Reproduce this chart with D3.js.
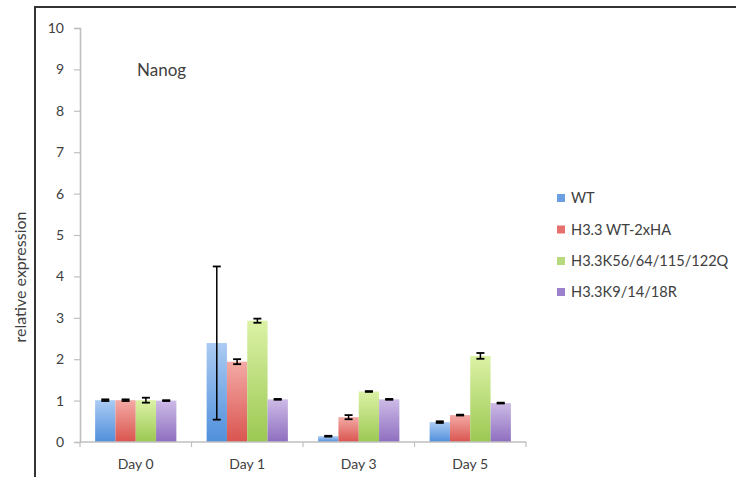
<!DOCTYPE html>
<html>
<head>
<meta charset="utf-8">
<script src="https://cdn.jsdelivr.net/npm/d3@7"></script>
<style>
  html, body { margin: 0; padding: 0; background: #fff; }
  svg { display: block; }
  text { font-family: Lato, "Open Sans", sans-serif; fill: #404040; }
</style>
</head>
<body>
<svg id="chart" width="736" height="477"></svg>
<script>
// ---- data ----
const days = ["Day 0", "Day 1", "Day 3", "Day 5"];
const seriesNames = ["WT", "H3.3 WT-2xHA", "H3.3K56/64/115/122Q", "H3.3K9/14/18R"];
const wtValues   = [1.01, 2.39, 0.14, 0.48];
const haValues   = [1.01, 1.94, 0.60, 0.65];
const kqValues   = [1.01, 2.93, 1.22, 2.08];
const krValues   = [1.00, 1.03, 1.03, 0.94];
const wtErrors   = [0.02, 1.85, 0.01, 0.02];
const haErrors   = [0.02, 0.06, 0.05, 0.01];
const kqErrors   = [0.06, 0.05, 0.01, 0.07];
const krErrors   = [0.01, 0.01, 0.01, 0.01];
const yTicks = [0, 1, 2, 3, 4, 5, 6, 7, 8, 9, 10];
const chartTitle = "Nanog";
const yTitle = "relative expression";

const values = [wtValues, haValues, kqValues, krValues];
const errors = [wtErrors, haErrors, kqErrors, krErrors];
const colorsTop    = ["#abcbf3", "#f4aaa5", "#dcf2a6", "#cdbbe7"];
const colorsBottom = ["#4f8fdb", "#d9544f", "#9bc852", "#8e6ebf"];
const legendColors = ["#6a9fe2", "#e8706c", "#b7da7c", "#9c82cc"];

const svg = d3.select("#chart");
const defs = svg.append("defs");
seriesNames.forEach((s, i) => {
  const g = defs.append("linearGradient").attr("id", "grad" + i)
    .attr("x1", 0).attr("y1", 0).attr("x2", 0).attr("y2", 1);
  g.append("stop").attr("offset", "0%").attr("stop-color", colorsTop[i]);
  g.append("stop").attr("offset", "100%").attr("stop-color", colorsBottom[i]);
});

// frame (cropped outer border)
svg.append("path").attr("d", "M35,477V7H736")
  .attr("fill", "none").attr("stroke", "#333").attr("stroke-width", 2);

const plotLeft = 80, plotRight = 526, plotTop = 28, plotBottom = 442;
const x0 = d3.scaleBand().domain(days).range([plotLeft, plotRight]).padding(0);
const x1 = d3.scaleBand().domain(seriesNames).range([0, x0.bandwidth()]).paddingInner(0).paddingOuter(0.745);
const y = d3.scaleLinear().domain([0, 10]).range([plotBottom, plotTop]);

// y axis
const yAxis = d3.axisLeft(y).tickValues(yTicks).tickSize(6).tickPadding(10).tickFormat(d3.format("d"));
const yg = svg.append("g").attr("transform", `translate(${plotLeft},0)`).call(yAxis);
yg.select(".domain").attr("stroke", "#bfbfbf").attr("stroke-width", 1.6);
yg.selectAll(".tick line").attr("stroke", "#bfbfbf").attr("stroke-width", 1.2);
yg.selectAll(".tick text").style("font-family", "Lato").style("font-size", "14px").attr("fill", "#404040");

// bars
const groups = svg.append("g").selectAll("g").data(days).join("g")
  .attr("transform", d => `translate(${x0(d)},0)`);
groups.each(function(day, di) {
  const g = d3.select(this);
  seriesNames.forEach((s, si) => {
    const v = values[si][di];
    g.append("rect")
      .attr("x", x1(s)).attr("width", x1.bandwidth())
      .attr("y", y(v)).attr("height", y(0) - y(v))
      .attr("fill", `url(#grad${si})`);
  });
  seriesNames.forEach((s, si) => {
    const v = values[si][di], e = errors[si][di];
    const cx = x1(s) + x1.bandwidth() / 2;
    g.append("line").attr("x1", cx).attr("x2", cx)
      .attr("y1", y(v + e)).attr("y2", y(v - e))
      .attr("stroke", "#000").attr("stroke-width", 1.5);
    [v + e, v - e].forEach(t => {
      g.append("line").attr("x1", cx - 4).attr("x2", cx + 4)
        .attr("y1", y(t)).attr("y2", y(t))
        .attr("stroke", "#000").attr("stroke-width", 1.8);
    });
  });
});

// x axis
const xg = svg.append("g").attr("transform", `translate(0,${plotBottom})`);
xg.append("line").attr("x1", plotLeft).attr("x2", plotRight).attr("y1", 0).attr("y2", 0)
  .attr("stroke", "#bfbfbf").attr("stroke-width", 1.6);
const boundaries = days.map(d => x0(d)).concat([x0(days[days.length - 1]) + x0.bandwidth()]);
xg.selectAll("line.tk").data(boundaries).join("line").attr("class", "tk")
  .attr("x1", d => d).attr("x2", d => d).attr("y1", 0).attr("y2", 5)
  .attr("stroke", "#bfbfbf").attr("stroke-width", 1.2);
xg.selectAll("text.lbl").data(days).join("text").attr("class", "lbl")
  .attr("x", d => x0(d) + x0.bandwidth() / 2).attr("y", 27)
  .attr("text-anchor", "middle").style("font-size", "14px").text(d => d);

// title
svg.append("text").attr("x", 137).attr("y", 76).style("font-size", "17px").text(chartTitle);

// y title
svg.append("text").attr("transform", "translate(26,277) rotate(-90)")
  .attr("text-anchor", "middle").style("font-size", "16px").text(yTitle);

// legend
const legendY = [198, 229.5, 261, 292];
const lg = svg.append("g").selectAll("g").data(seriesNames).join("g")
  .attr("transform", (d, i) => `translate(557,${legendY[i]})`);
lg.append("rect").attr("x", 0).attr("y", -4).attr("width", 8).attr("height", 8)
  .attr("fill", (d, i) => legendColors[i]);
lg.append("text").attr("x", 14).attr("y", 5).style("font-size", "14.6px").text(d => d);
</script>
</body>
</html>
